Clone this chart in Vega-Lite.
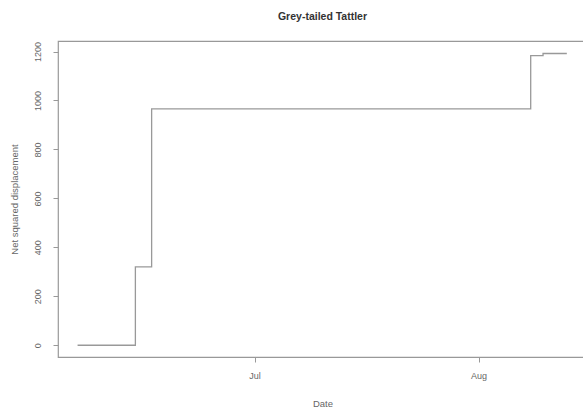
{
  "$schema": "https://vega.github.io/schema/vega-lite/v6.json",
  "width": 529,
  "height": 316,
  "autosize": "none",
  "padding": {"left": 58, "top": 41, "right": 0, "bottom": 51},
  "background": "white",
  "title": {
    "text": "Grey-tailed Tattler",
    "font": "Liberation Sans",
    "fontSize": 10.5,
    "fontWeight": "bold",
    "color": "#333333",
    "anchor": "middle",
    "offset": 19
  },
  "config": {
    "view": {"stroke": "#999999", "strokeWidth": 1.2},
    "axis": {
      "labelFont": "Liberation Sans",
      "titleFont": "Liberation Sans",
      "labelFontSize": 9,
      "titleFontSize": 9.5,
      "titleFontWeight": "normal",
      "labelColor": "#666666",
      "titleColor": "#666666",
      "tickColor": "#999999",
      "domain": false,
      "grid": false,
      "tickSize": 5
    }
  },
  "data": {
    "values": [
      {"date": "2011-06-06T12:00:00", "nsd": 0},
      {"date": "2011-06-14T12:00:00", "nsd": 320},
      {"date": "2011-06-16T18:00:00", "nsd": 966},
      {"date": "2011-08-08T05:00:00", "nsd": 1183},
      {"date": "2011-08-09T22:00:00", "nsd": 1192},
      {"date": "2011-08-13T05:00:00", "nsd": 1192}
    ]
  },
  "mark": {"type": "line", "interpolate": "step-after", "color": "#999999", "strokeWidth": 1.3},
  "encoding": {
    "x": {
      "field": "date",
      "type": "temporal",
      "title": "Date",
      "scale": {
        "domain": [
          {"year": 2011, "month": 6, "date": 3, "hours": 19},
          {"year": 2011, "month": 8, "date": 16, "hours": 0}
        ],
        "nice": false
      },
      "axis": {
        "values": [
          {"year": 2011, "month": 7, "date": 1},
          {"year": 2011, "month": 8, "date": 1}
        ],
        "format": "%b",
        "labelPadding": 9,
        "titlePadding": 18
      }
    },
    "y": {
      "field": "nsd",
      "type": "quantitative",
      "title": "Net squared displacement",
      "scale": {"domain": [-48, 1243], "nice": false, "zero": false},
      "axis": {
        "values": [0, 200, 400, 600, 800, 1000, 1200],
        "format": "d",
        "labelAngle": 270,
        "labelAlign": "center",
        "labelBaseline": "bottom",
        "labelPadding": 11,
        "titlePadding": 14
      }
    }
  }
}
